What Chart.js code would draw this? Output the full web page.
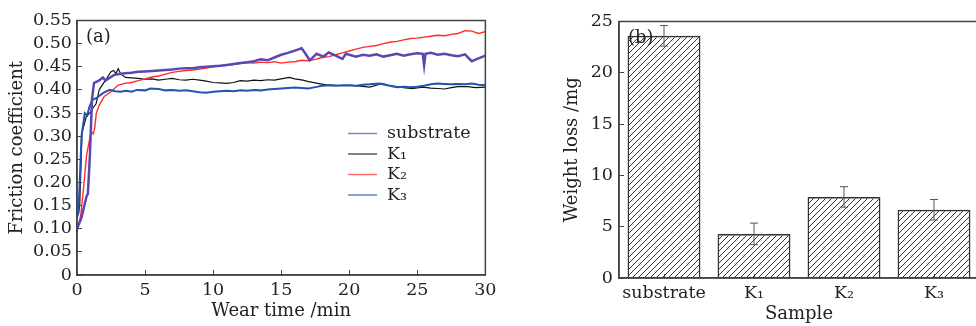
<!DOCTYPE html>
<html>
<head>
<meta charset="utf-8">
<script src="https://cdn.jsdelivr.net/npm/chart.js@4.4.0/dist/chart.umd.min.js"></script>
<style>
  html, body { margin: 0; padding: 0; background: #fff; overflow: hidden; }
  #wrap { position: relative; width: 976px; height: 326px; overflow: hidden; }
  #friction { position: absolute; left: 0; top: 0; }
  #weight { position: absolute; left: 550px; top: 0; }
</style>
</head>
<body>
<div id="wrap">
  <canvas id="friction" width="506" height="326"></canvas>
  <canvas id="weight" width="429" height="326"></canvas>
</div>
<script>
// (a) friction coefficient vs wear time
const subTime = [0, 0.33, 0.7, 0.8, 0.95, 1.1, 1.25, 1.6, 1.9, 2.1, 2.3, 2.7, 3, 3.5, 4, 4.5, 5, 5.5, 6, 6.5, 7, 7.5, 8, 8.5, 9, 9.5, 10, 10.5, 11, 11.5, 12, 12.5, 13, 13.5, 14, 14.5, 15, 15.5, 16, 16.5, 16.7, 17.1, 17.6, 18.1, 18.5, 19, 19.5, 19.75, 20.5, 21, 21.5, 22, 22.5, 23, 23.5, 24, 24.5, 25, 25.4, 25.5, 25.6, 26, 26.5, 27, 27.5, 28, 28.5, 29, 29.5, 30];
const subFriction = [0.10, 0.124, 0.17, 0.176, 0.26, 0.38, 0.415, 0.420, 0.427, 0.420, 0.424, 0.432, 0.434, 0.436, 0.437, 0.439, 0.440, 0.441, 0.442, 0.443, 0.444, 0.446, 0.447, 0.447, 0.449, 0.450, 0.451, 0.452, 0.454, 0.456, 0.458, 0.460, 0.462, 0.466, 0.464, 0.470, 0.476, 0.480, 0.485, 0.490, 0.482, 0.464, 0.478, 0.472, 0.481, 0.474, 0.467, 0.478, 0.472, 0.476, 0.474, 0.477, 0.472, 0.475, 0.478, 0.474, 0.477, 0.479, 0.478, 0.453, 0.478, 0.480, 0.476, 0.478, 0.475, 0.473, 0.477, 0.462, 0.468, 0.474];

const k1Time = [0.1, 0.2, 0.37, 0.69, 1.0, 1.17, 1.4, 1.63, 1.78, 2.1, 2.48, 2.7, 2.85, 3.03, 3.2, 3.56, 4, 4.5, 5, 5.5, 6, 6.5, 7, 7.5, 8, 8.5, 9, 9.5, 10, 10.5, 11, 11.5, 12, 12.5, 13, 13.5, 14, 14.5, 15, 15.6, 16, 16.6, 17, 17.7, 18.3, 19, 19.5, 20.2, 20.8, 21.5, 22, 22.4, 23, 23.5, 24, 24.6, 25.4, 26, 26.5, 27, 27.5, 28, 28.7, 29.3, 30];
const k1Friction = [0.13, 0.152, 0.308, 0.343, 0.352, 0.361, 0.37, 0.40, 0.407, 0.421, 0.439, 0.442, 0.435, 0.446, 0.435, 0.427, 0.426, 0.425, 0.423, 0.424, 0.421, 0.423, 0.425, 0.422, 0.421, 0.423, 0.421, 0.419, 0.416, 0.415, 0.414, 0.416, 0.420, 0.419, 0.421, 0.420, 0.422, 0.421, 0.424, 0.427, 0.424, 0.421, 0.418, 0.414, 0.411, 0.410, 0.409, 0.410, 0.408, 0.406, 0.410, 0.414, 0.409, 0.407, 0.405, 0.403, 0.406, 0.404, 0.403, 0.402, 0.405, 0.407, 0.407, 0.405, 0.406];

const k2Time = [0, 0.28, 0.52, 0.7, 0.93, 1.05, 1.2, 1.3, 1.42, 1.65, 2, 2.5, 3, 3.5, 4, 4.5, 5, 5.5, 6, 6.5, 7, 7.5, 8, 8.5, 9, 9.5, 10, 10.5, 11, 11.5, 12, 12.5, 13, 13.5, 14, 14.5, 15, 15.5, 16, 16.5, 17, 17.5, 18, 18.5, 19, 19.5, 20, 20.5, 21, 21.5, 22, 22.5, 23, 23.5, 24, 24.5, 25, 25.5, 26, 26.5, 27, 27.5, 28, 28.5, 29, 29.5, 30];
const k2Friction = [0.092, 0.13, 0.20, 0.258, 0.294, 0.31, 0.305, 0.318, 0.35, 0.368, 0.386, 0.396, 0.410, 0.414, 0.416, 0.420, 0.424, 0.428, 0.430, 0.434, 0.438, 0.440, 0.442, 0.443, 0.445, 0.447, 0.450, 0.452, 0.453, 0.455, 0.457, 0.459, 0.458, 0.460, 0.459, 0.461, 0.458, 0.460, 0.461, 0.464, 0.463, 0.466, 0.470, 0.472, 0.476, 0.480, 0.484, 0.488, 0.492, 0.494, 0.496, 0.500, 0.503, 0.505, 0.508, 0.511, 0.512, 0.514, 0.516, 0.518, 0.517, 0.520, 0.522, 0.528, 0.527, 0.522, 0.526];

const k3Time = [0, 0.1, 0.2, 0.33, 0.5, 0.57, 0.75, 0.93, 1.15, 1.41, 1.9, 2.4, 2.8, 3.2, 3.6, 4, 4.4, 5, 5.4, 6, 6.5, 7, 7.5, 8, 8.5, 9, 9.5, 10, 10.5, 11, 11.5, 12, 12.5, 13, 13.5, 14, 14.5, 15, 15.5, 16, 16.5, 17, 17.5, 18, 18.5, 19, 19.5, 20, 20.5, 21, 21.5, 22.2, 22.8, 23.5, 24, 24.5, 25, 25.5, 26, 26.5, 27, 27.5, 28, 28.5, 29, 29.5, 30];
const k3Friction = [0.125, 0.135, 0.20, 0.30, 0.335, 0.35, 0.345, 0.365, 0.379, 0.382, 0.393, 0.400, 0.397, 0.396, 0.398, 0.396, 0.400, 0.399, 0.403, 0.402, 0.399, 0.400, 0.398, 0.399, 0.397, 0.395, 0.394, 0.396, 0.397, 0.398, 0.397, 0.399, 0.398, 0.400, 0.399, 0.401, 0.402, 0.403, 0.404, 0.405, 0.404, 0.403, 0.406, 0.409, 0.410, 0.409, 0.410, 0.410, 0.409, 0.411, 0.412, 0.414, 0.410, 0.406, 0.407, 0.406, 0.407, 0.409, 0.412, 0.414, 0.413, 0.412, 0.413, 0.412, 0.414, 0.411, 0.410];

// (b) weight loss per sample
const samples = ['substrate', 'K\u2081', 'K\u2082', 'K\u2083'];
const weightLoss = [23.6, 4.3, 7.9, 6.65];
const weightErr = [1.0, 1.05, 1.0, 1.0];

Chart.defaults.font.family = '"DejaVu Serif", serif';
Chart.defaults.font.size = 17.5;
Chart.defaults.color = '#222';
Chart.defaults.animation = false;

function pts(xs, ys) {
  return xs.map((x, i) => ({ x: x, y: ys[i] }));
}

// box round the plot and the panel tag
const framePlugin = {
  id: 'frame',
  afterDraw(chart, args, opts) {
    const { ctx, chartArea: a } = chart;
    ctx.save();
    ctx.strokeStyle = '#444';
    ctx.lineWidth = 1.5;
    ctx.strokeRect(a.left, a.top, a.right - a.left, a.bottom - a.top);
    ctx.font = '18px "DejaVu Serif"';
    ctx.fillStyle = '#222';
    ctx.textBaseline = 'middle';
    ctx.fillText(opts.tag, a.left + 9, a.top + 17);
    ctx.restore();
  }
};

// legend drawn inside the plot of (a)
const innerLegend = {
  id: 'innerLegend',
  afterDraw(chart) {
    const { ctx, chartArea: a } = chart;
    ctx.save();
    ctx.font = '17.5px "DejaVu Serif"';
    ctx.textBaseline = 'middle';
    chart.data.datasets.forEach((ds, i) => {
      const y = a.top + 113 + i * 20.5;
      ctx.globalAlpha = 0.7;
      ctx.strokeStyle = ds.borderColor;
      ctx.lineWidth = 1.5;
      ctx.beginPath();
      ctx.moveTo(a.left + 271, y);
      ctx.lineTo(a.left + 300, y);
      ctx.stroke();
      ctx.globalAlpha = 1;
      ctx.fillStyle = '#222';
      ctx.fillText(ds.label, a.left + 310, y);
    });
    ctx.restore();
  }
};

const errorBars = {
  id: 'errorBars',
  afterDatasetsDraw(chart) {
    const ctx = chart.ctx;
    const yScale = chart.scales.y;
    const meta = chart.getDatasetMeta(0);
    ctx.save();
    ctx.strokeStyle = '#555';
    ctx.lineWidth = 1;
    meta.data.forEach((bar, i) => {
      const hi = yScale.getPixelForValue(weightLoss[i] + weightErr[i]);
      const lo = yScale.getPixelForValue(weightLoss[i] - weightErr[i]);
      ctx.beginPath();
      ctx.moveTo(bar.x, hi); ctx.lineTo(bar.x, lo);
      ctx.moveTo(bar.x - 4, hi); ctx.lineTo(bar.x + 4, hi);
      ctx.moveTo(bar.x - 4, lo); ctx.lineTo(bar.x + 4, lo);
      ctx.stroke();
    });
    ctx.restore();
  }
};

function hatch() {
  const c = document.createElement('canvas');
  c.width = 6; c.height = 6;
  const g = c.getContext('2d');
  g.strokeStyle = '#333';
  g.lineWidth = 1;
  g.beginPath();
  g.moveTo(0, 6); g.lineTo(6, 0);
  g.moveTo(-1, 1); g.lineTo(1, -1);
  g.moveTo(5, 7); g.lineTo(7, 5);
  g.stroke();
  return g.createPattern(c, 'repeat');
}

const axisGrid = { drawOnChartArea: false, tickLength: -5, color: '#444', lineWidth: 1 };
const axisBorder = { color: '#444', width: 1.5 };

new Chart(document.getElementById('friction'), {
  type: 'line',
  data: {
    datasets: [
      { label: 'substrate', data: pts(subTime, subFriction), borderColor: '#5a48b0', borderWidth: 2.5, order: 0 },
      { label: 'K\u2081', data: pts(k1Time, k1Friction), borderColor: '#111111', borderWidth: 1.2, order: 3 },
      { label: 'K\u2082', data: pts(k2Time, k2Friction), borderColor: '#ff2a2a', borderWidth: 1.4, order: 2 },
      { label: 'K\u2083', data: pts(k3Time, k3Friction), borderColor: '#2452b0', borderWidth: 2, order: 1 }
    ]
  },
  options: {
    responsive: false,
    pointRadius: 0,
    tension: 0,
    layout: { padding: { top: 15, right: 15, left: 0, bottom: 0 } },
    plugins: { legend: { display: false }, tooltip: { enabled: false }, frame: { tag: '(a)' } },
    scales: {
      x: {
        type: 'linear', min: 0, max: 30,
        grid: axisGrid, border: axisBorder,
        ticks: { stepSize: 5, padding: 9.5, autoSkip: false, maxRotation: 0 },
        title: { display: true, text: 'Wear time /min', font: { size: 18 }, padding: { top: 0, bottom: 4.2 } },
        afterFit: s => { s.height = 51; }
      },
      y: {
        min: 0, max: 0.55,
        grid: axisGrid, border: axisBorder,
        ticks: { stepSize: 0.05, padding: 10, autoSkip: false, callback: v => Math.abs(v) < 1e-9 ? '0' : v.toFixed(2) },
        title: { display: true, text: 'Friction coefficient', font: { size: 18 }, padding: { top: 6.2, bottom: 0 } },
        afterFit: s => { s.width = 77; }
      }
    }
  },
  plugins: [framePlugin, innerLegend]
});

new Chart(document.getElementById('weight'), {
  type: 'bar',
  data: {
    labels: samples,
    datasets: [{
      label: 'Weight loss',
      data: weightLoss,
      backgroundColor: hatch(),
      borderColor: '#333',
      borderWidth: 1.5,
      categoryPercentage: 1,
      barPercentage: 0.81
    }]
  },
  options: {
    responsive: false,
    layout: { padding: { top: 15, right: 0, left: 0, bottom: 0 } },
    plugins: { legend: { display: false }, tooltip: { enabled: false }, frame: { tag: '(b)' } },
    scales: {
      x: {
        grid: Object.assign({}, axisGrid, { offset: false, tickLength: -4 }),
        border: axisBorder,
        ticks: { padding: 8.5, autoSkip: false, maxRotation: 0 },
        title: { display: true, text: 'Sample', font: { size: 18 }, padding: { top: 0, bottom: 1.2 } },
        afterFit: s => { s.height = 48; }
      },
      y: {
        min: 0, max: 25,
        grid: axisGrid, border: axisBorder,
        ticks: { stepSize: 5, padding: 11, autoSkip: false },
        title: { display: true, text: 'Weight loss /mg', font: { size: 18 }, padding: { top: 11.2, bottom: 0 } },
        afterFit: s => { s.width = 69; }
      }
    }
  },
  plugins: [framePlugin, errorBars]
});
</script>
</body>
</html>
